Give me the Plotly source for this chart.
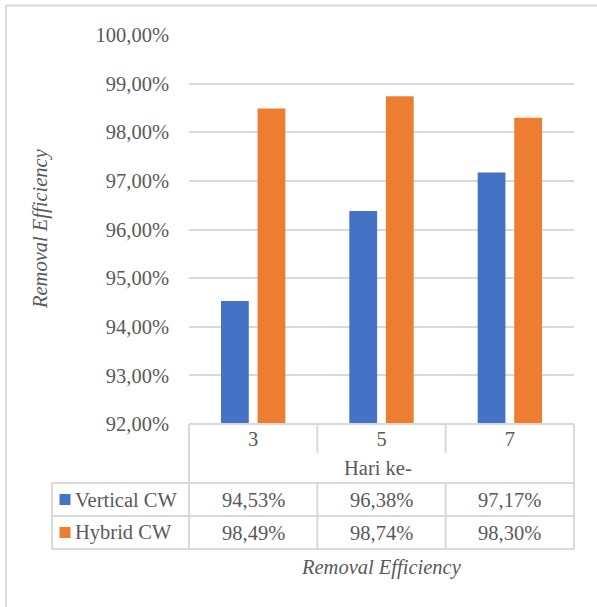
import plotly.graph_objects as go

# Removal efficiency per sampling day for two constructed-wetland types
days = ["3", "5", "7"]
vertical_cw = [94.53, 96.38, 97.17]
hybrid_cw = [98.49, 98.74, 98.30]
series_names = ["Vertical CW", "Hybrid CW"]
y_ticks = [92, 93, 94, 95, 96, 97, 98, 99, 100]
y_tick_labels = ["92,00%", "93,00%", "94,00%", "95,00%", "96,00%",
                 "97,00%", "98,00%", "99,00%", "100,00%"]

BLUE = "#4472C4"
ORANGE = "#ED7D31"
TEXT = "#595959"
LINE = "#D9D9D9"
FONT = "Times New Roman, Liberation Serif, DejaVu Serif, serif"
FS = 20.5

W, H = 597, 607
L, R, T, B = 189, 574, 35, 424  # plot area in pixels


def px(x):
    return (x - L) / (R - L)


def py(y):
    return (B - y) / (B - T)


def pct(v):
    return f"{v:.2f}".replace(".", ",") + "%"


fig = go.Figure()
fig.add_trace(go.Bar(x=days, y=vertical_cw, name=series_names[0],
                     marker=dict(color=BLUE, line=dict(width=0))))
fig.add_trace(go.Bar(x=days, y=hybrid_cw, name=series_names[1],
                     marker=dict(color=ORANGE, line=dict(width=0))))

shapes = []


def hline(x0, x1, y):
    shapes.append(dict(type="line", xref="paper", yref="paper",
                       x0=px(x0), x1=px(x1), y0=py(y), y1=py(y),
                       line=dict(color=LINE, width=2)))


def vline(x, y0, y1):
    shapes.append(dict(type="line", xref="paper", yref="paper",
                       x0=px(x), x1=px(x), y0=py(y0), y1=py(y1),
                       line=dict(color=LINE, width=2)))


# outer chart border (top and left visible)
hline(6, 640, 5.5)
vline(6, 5.5, 650)

# data table grid
col_edges = [L, L + (R - L) / 3, L + 2 * (R - L) / 3, R]
row_top, row_mid, row_bot = 483, 516, 549
hline(L, R, B)
for yy in (row_top, row_mid, row_bot):
    hline(52, R, yy)
vline(52, row_top, row_bot)
vline(L, B, row_bot)
vline(R, B, row_bot)
for xx in col_edges[1:3]:
    vline(xx, B, 453)
    vline(xx, row_top, row_bot)

annotations = []
rows = [(vertical_cw, BLUE, (row_top + row_mid) / 2),
        (hybrid_cw, ORANGE, (row_mid + row_bot) / 2)]
for (vals, color, yc), name in zip(rows, series_names):
    shapes.append(dict(type="rect", xref="paper", yref="paper",
                       x0=px(59.5), x1=px(70.5), y0=py(yc - 5.5), y1=py(yc + 5.5),
                       fillcolor=color, line=dict(width=0)))
    annotations.append(dict(text=name, xref="paper", yref="paper",
                            x=px(73), y=py(yc), xanchor="left", yanchor="middle",
                            showarrow=False, font=dict(family=FONT, size=FS, color=TEXT)))
    for i, v in enumerate(vals):
        xc = (col_edges[i] + col_edges[i + 1]) / 2
        annotations.append(dict(text=pct(v), xref="paper", yref="paper",
                                x=px(xc), y=py(yc), xanchor="center", yanchor="middle",
                                showarrow=False, font=dict(family=FONT, size=FS, color=TEXT)))

annotations.append(dict(text="Hari ke-", xref="paper", yref="paper",
                        x=px(378), y=py(468), xanchor="center", yanchor="middle",
                        showarrow=False, font=dict(family=FONT, size=FS, color=TEXT)))
annotations.append(dict(text="<i>Removal Efficiency</i>", xref="paper", yref="paper",
                        x=px(381), y=py(567), xanchor="center", yanchor="middle",
                        showarrow=False, font=dict(family=FONT, size=FS, color=TEXT)))
annotations.append(dict(text="<i>Removal Efficiency</i>", xref="paper", yref="paper",
                        x=px(40), y=py(229), xanchor="center", yanchor="middle",
                        textangle=-90, showarrow=False,
                        font=dict(family=FONT, size=FS, color=TEXT)))

fig.update_layout(
    width=W, height=H,
    margin=dict(l=L, r=W - R, t=T, b=H - B, pad=0),
    paper_bgcolor="white", plot_bgcolor="white",
    barmode="group", bargap=0.43, bargroupgap=0.24,
    showlegend=False,
    shapes=shapes, annotations=annotations,
    font=dict(family=FONT, size=FS, color=TEXT),
)
fig.update_xaxes(type="category", showline=False, showgrid=False, zeroline=False,
                 ticks="", tickfont=dict(family=FONT, size=FS, color=TEXT),
                 ticklabelstandoff=0)
fig.update_yaxes(range=[92, 100], tickvals=y_ticks, ticktext=y_tick_labels,
                 showgrid=True, gridcolor=LINE, gridwidth=2, zeroline=False,
                 showline=False, ticks="", ticklabelstandoff=19,
                 tickfont=dict(family=FONT, size=FS, color=TEXT))

fig.write_html("out.html")
